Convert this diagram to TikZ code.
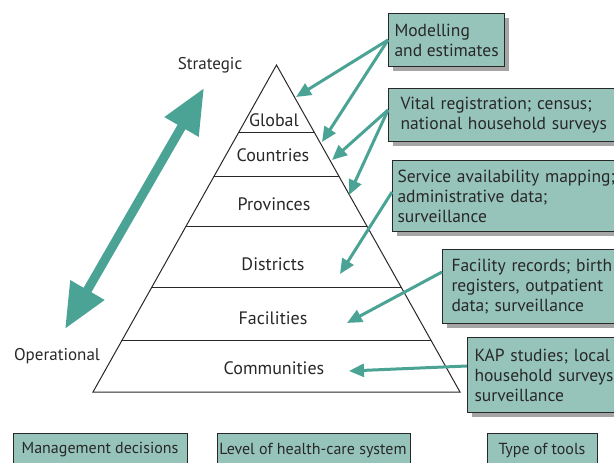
\documentclass[tikz,border=0pt]{standalone}
\usepackage{fontspec}
\setmainfont{PT Sans}
\usetikzlibrary{arrows.meta,calc,shadows}
\definecolor{teal1}{RGB}{74,163,148}
\definecolor{boxfill}{RGB}{150,196,186}
\definecolor{ink}{RGB}{40,40,40}
\definecolor{shadowgray}{RGB}{165,165,165}
\tikzset{
  toolbox/.style={draw=ink, line width=1pt, fill=boxfill, anchor=north west, align=left,
    inner ysep=3pt, font=\fontsize{17.5}{20}\selectfont, text=ink,
    drop shadow={shadow xshift=4pt, shadow yshift=-4pt, fill=shadowgray, opacity=1}},
  keybox/.style={draw=ink, line width=1pt, fill=boxfill, anchor=north west},
  keytext/.style={font=\fontsize{16}{18}\selectfont, text=ink},
  lvl/.style={font=\fontsize{18}{20}\selectfont, text=ink},
  side/.style={font=\fontsize{17}{20}\selectfont, text=ink},
  pyr/.style={draw=ink, line width=1pt},
  toolarrow/.style={draw=teal1, line width=3pt, -{Triangle[length=15pt,width=13pt]}},
  bigarrow/.style={draw=teal1, line width=9pt, {Triangle[length=45pt,width=37pt]}-{Triangle[length=45pt,width=37pt]}}
}
\begin{document}
\begin{tikzpicture}[x=1pt,y=-1pt]
\useasboundingbox (0,0) rectangle (614,463);
\clip (0,0) rectangle (614,463);
% pyramid
\coordinate (apex) at (276.5,65);
\coordinate (bl) at (93,392);
\coordinate (br) at (460,392);
\draw[pyr] (bl) -- (apex) -- (br) -- cycle;
\foreach \f in {0.2049,0.3425,0.4954,0.6789,0.8440}{
  \draw[pyr] ($(apex)!\f!(bl)$) -- ($(apex)!\f!(br)$);
}
% level labels
\node[lvl] (global) at (274,120) {Global};
\node[lvl] (countries) at (273,155) {Countries};
\node[lvl] (provinces) at (274,204) {Provinces};
\node[lvl] (districts) at (273,264) {Districts};
\node[lvl] (facilities) at (273,318) {Facilities};
\node[lvl] (communities) at (274,368) {Communities};
% side labels
\node[side] (strategic) at (210,65) {Strategic};
\node[side] (operational) at (57,356) {Operational};
% double arrow
\coordinate (top) at (204,88);
\coordinate (bot) at (65,329);
\draw[bigarrow] (bot) -- (top);
% tool boxes
\node[toolbox, inner xsep=6pt, minimum height=53pt] (b1) at (388,13) {Modelling\\and estimates};
\node[toolbox, inner xsep=12pt, text width=216pt, minimum height=53pt] (b2) at (388,88) {Vital registration; census;\\national household surveys};
\node[toolbox, inner xsep=5pt, text width=230pt, minimum height=71pt] (b3) at (392,160) {Service availability mapping;\\administrative data;\\surveillance};
\node[toolbox, inner xsep=9pt, text width=162pt, minimum height=74pt] (b4) at (442,249) {Facility records; birth\\registers, outpatient\\data; surveillance};
\node[toolbox, inner xsep=7pt, text width=146pt, minimum height=75pt] (b5) at (467,337) {KAP studies; local\\household surveys\\surveillance};
% arrows
\coordinate (s1) at (388,40);
\coordinate (s2) at (388,110);
\coordinate (s3) at (392,192);
\coordinate (s4) at (442,272);
\coordinate (s5) at (467,366);
\coordinate (t1) at (296,97);
\coordinate (t2) at (322,142);
\coordinate (t3) at (332,160);
\coordinate (t4) at (349,195);
\coordinate (t5) at (340,274);
\coordinate (t6) at (347,323);
\coordinate (t7) at (349,371);
\draw[toolarrow] (s1) -- (t1);
\draw[toolarrow] (s1) -- (t2);
\draw[toolarrow] (s2) -- (t3);
\draw[toolarrow] (s2) -- (t4);
\draw[toolarrow] (s3) -- (t5);
\draw[toolarrow] (s4) -- (t6);
\draw[toolarrow] (s5) -- (t7);
% key boxes
\node[keybox, minimum width=174pt, minimum height=40pt] (k1) at (13,433) {};
\node[keytext] (k1t) at (100,450) {Management decisions};
\node[keybox, minimum width=193pt, minimum height=40pt] (k2) at (217,433) {};
\node[keytext] (k2t) at (313,450) {Level of health-care system};
\node[keybox, minimum width=110pt, minimum height=40pt] (k3) at (487,433) {};
\node[keytext] (k3t) at (542,450) {Type of tools};
\end{tikzpicture}
\end{document}
